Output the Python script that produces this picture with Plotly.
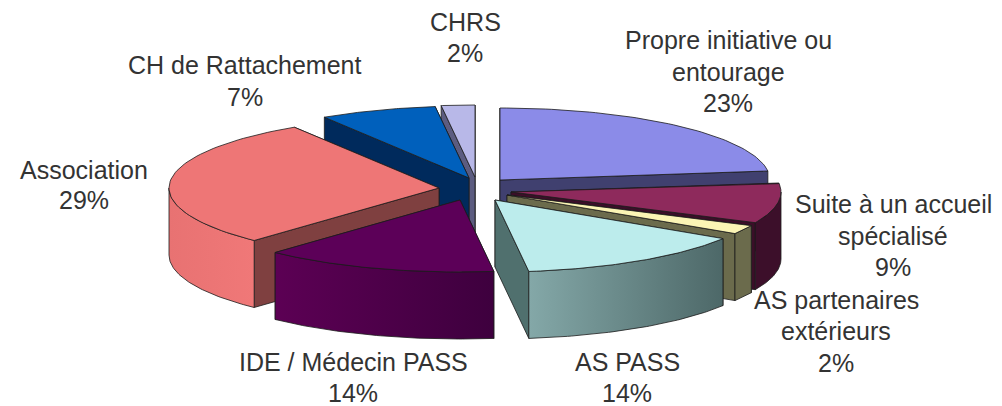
import math
import plotly.graph_objects as go

# ---- data ----
categories = ["Propre initiative ou<br>entourage", "Suite à un accueil<br>spécialisé",
              "AS partenaires<br>extérieurs", "AS PASS", "IDE / Médecin PASS",
              "Association", "CH de Rattachement", "CHRS"]
values = [23, 9, 2, 14, 14, 29, 7, 2]

# ---- drawing style / layout (pixels of the 1002x406 page) ----
apex_x = [500, 511, 507, 495, 460, 439, 469, 475]
apex_y = [180, 192, 195, 200, 200, 188, 178, 177]
label_x = [728, 893, 836, 627, 353, 84, 245, 465]
label_y = [[40, 72, 103], [204, 236, 267], [300, 331, 363], [362, 393], [362, 393],
           [170, 200], [65, 97], [22, 53]]
top_col = ["#8b8be8", "#8e2a5c", "#fbf5b5", "#bcecec", "#5c0058", "#ee7676", "#0060bc", "#b8b8e8"]
edge_col = ["#40406f", "#3a0f28", "#6b6b4c", "#50706e", "#3e003e", "#7f4040", "#002a5c", "#5c5c80"]
outer_grad = [("#40406f", "#40406f"), ("#3c0f2a", "#3c0f2a"), ("#6b6b4c", "#6b6b4c"),
              ("#84a8a8", "#4d6868"), ("#5c0054", "#3e003e"), ("#e87272", "#f07878"),
              ("#002a5c", "#002a5c"), ("#5c5c80", "#5c5c80")]
RX, RY, DEPTH = 270, 72, 67
draw_order = [7, 6, 0, 1, 2, 5, 4, 3]
OUT = dict(color="#1c1c1c", width=0.8)
TEXT = "#333333"
PAGE_MARGIN = 8

total = sum(values)
starts, acc = [], 0
for v in values:
    starts.append(acc / total * 2 * math.pi)
    acc += v
ends = starts[1:] + [2 * math.pi]


def pt(i, th, dz=0):
    return apex_x[i] + RX * math.sin(th), apex_y[i] - RY * math.cos(th) + dz


def arc(i, a, b, dz=0, n=60):
    return [pt(i, a + (b - a) * k / n, dz) for k in range(n + 1)]


def poly(fig, pts, color=None, grad=None):
    xs = [p[0] for p in pts] + [pts[0][0]]
    ys = [p[1] for p in pts] + [pts[0][1]]
    kw = dict(x=xs, y=ys, mode="lines", line=OUT, fill="toself",
              hoverinfo="skip", showlegend=False)
    if grad:
        kw["fillgradient"] = dict(type="horizontal", colorscale=[[0, grad[0]], [1, grad[1]]])
    else:
        kw["fillcolor"] = color
    fig.add_trace(go.Scatter(**kw))


fig = go.Figure()
for i in draw_order:
    a, b = starts[i], ends[i]
    ax, ay = apex_x[i], apex_y[i]
    # cut faces: the one reaching lowest on the page is drawn last
    for th in sorted((a, b), key=lambda t: pt(i, t)[1]):
        p, q = pt(i, th), pt(i, th, DEPTH)
        poly(fig, [(ax, ay), p, q, (ax, ay + DEPTH)], color=edge_col[i])
    # rim, only the part facing the viewer
    lo, hi = max(a, math.pi / 2), min(b, 3 * math.pi / 2)
    if hi > lo:
        poly(fig, arc(i, lo, hi) + arc(i, hi, lo, DEPTH), grad=outer_grad[i])
    # top
    poly(fig, [(ax, ay)] + arc(i, a, b), color=top_col[i])

annotations = []
for name, v, x, ys in zip(categories, values, label_x, label_y):
    for line, y in zip(name.split("<br>") + [f"{v}%"], ys):
        annotations.append(dict(x=x, y=y, text=line, showarrow=False, xanchor="center",
                                yanchor="middle", font=dict(family="Liberation Sans", size=25, color=TEXT)))

fig.update_layout(
    width=1002 - PAGE_MARGIN, height=406 - PAGE_MARGIN, margin=dict(l=0, r=0, t=0, b=0),
    paper_bgcolor="white", plot_bgcolor="white", showlegend=False,
    xaxis=dict(range=[PAGE_MARGIN, 1002], visible=False, fixedrange=True),
    yaxis=dict(range=[406, PAGE_MARGIN], visible=False, fixedrange=True),
    annotations=annotations,
)
fig.write_html("out.html", config={"displayModeBar": False})
